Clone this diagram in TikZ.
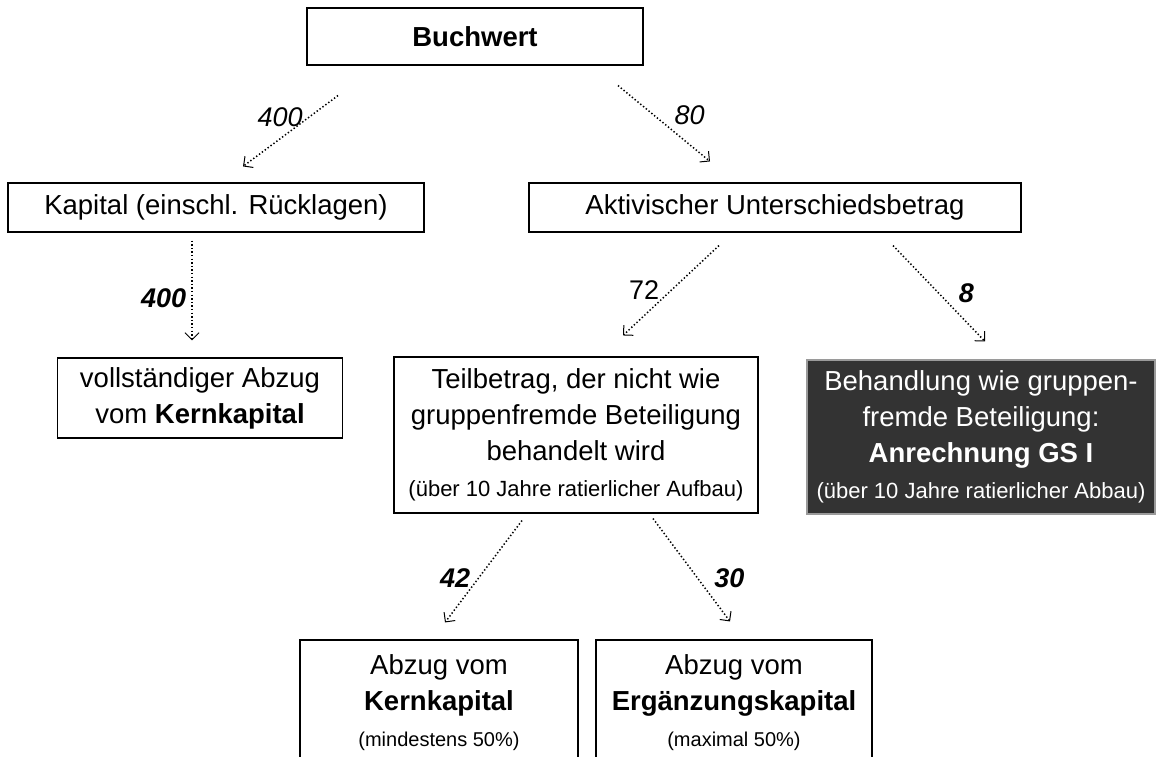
\documentclass[tikz,border=0pt]{standalone}
\usepackage{fontspec}
\setmainfont{Liberation Sans}
\usetikzlibrary{arrows.meta}

\definecolor{boxdark}{HTML}{333333}
\definecolor{boxedge}{HTML}{9A9A9A}

\newcommand{\klein}{\fontsize{20}{36}\selectfont}
\newcommand{\kleinb}{\fontsize{22}{36}\selectfont}

\begin{document}
\begin{tikzpicture}[x=1pt,y=-1pt,
    box/.style={draw, line width=1.1pt, align=center, inner sep=0pt,
        font=\fontsize{27.5}{36}\selectfont},
    darkbox/.style={box, fill=boxdark, draw=boxedge, text=white},
    conn/.style={line width=1.5pt, dash pattern=on 1.4pt off 2.2pt,
        -{Straight Barb[length=7pt,width=14pt,line width=1pt]}},
    num/.style={inner sep=2pt, font=\fontsize{27}{30}\selectfont\itshape},
    bnum/.style={num, font=\fontsize{27}{30}\selectfont\bfseries\itshape},
    pnum/.style={num, font=\fontsize{27}{30}\selectfont}
  ]

    % Page size of the reference
    \useasboundingbox (0,0) rectangle (1162,757);
    \clip (0,0) rectangle (1162,757);

    % Boxes
    \node[box, minimum width=336pt, minimum height=57pt, font=\fontsize{27.5}{36}\selectfont\bfseries]
        (buch) at (475,36.5) {Buchwert};
    \node[box, minimum width=416pt, minimum height=49pt] (kap) at (216,207.5) {Kapital (einschl. Rücklagen)};
    \node[box, minimum width=492pt, minimum height=49pt] (akt) at (775,207.5) {Aktivischer Unterschiedsbetrag};
    \node[box, minimum width=285pt, minimum height=80pt] (voll) at (200,398)
        {vollständiger Abzug\\vom \textbf{Kernkapital}};
    \node[box, minimum width=364pt, minimum height=156pt] (teil) at (576,435)
        {Teilbetrag, der nicht wie\\gruppenfremde Beteiligung\\behandelt wird\\{\kleinb (über 10 Jahre ratierlicher Aufbau)}};
    \node[darkbox, minimum width=348pt, minimum height=154pt] (beh) at (981,437)
        {Behandlung wie gruppen-\\fremde Beteiligung:\\\textbf{Anrechnung GS I}\\{\kleinb (über 10 Jahre ratierlicher Abbau)}};
    \node[box, minimum width=278pt, minimum height=125pt] (kern) at (439,702.5)
        {Abzug vom\\\textbf{Kernkapital}\\{\klein (mindestens 50\%)}};
    \node[box, minimum width=276pt, minimum height=125pt] (erg) at (734,702.5)
        {Abzug vom\\\textbf{Ergänzungskapital}\\{\klein (maximal 50\%)}};

    % Arrows with amounts
    \draw[conn] ([shift={(-137,30)}]buch.south) -- ([shift={(27,-16)}]kap.north)
        node[num, pos=0.3, left=4pt] {400};
    \draw[conn] ([shift={(143,20)}]buch.south) -- ([shift={(-65,-21)}]akt.north)
        node[num, pos=0.39, right=18pt] {80};
    \draw[conn] ([shift={(-24,8)}]kap.south) -- ([shift={(-8,-17)}]voll.north)
        node[bnum, pos=0.58, left=3pt] {400};
    \draw[conn] ([shift={(-56,13)}]akt.south) -- ([shift={(47,-21)}]teil.north)
        node[pnum, midway, left=9pt] {72};
    \draw[conn] ([shift={(118,13)}]akt.south) -- ([shift={(4,-18)}]beh.north)
        node[bnum, midway, right=17pt] {8};
    \draw[conn] ([shift={(-54,7)}]teil.south) -- ([shift={(6,-17)}]kern.north)
        node[bnum, pos=0.56, left=6pt] {42};
    \draw[conn] ([shift={(77,5)}]teil.south) -- ([shift={(-4,-18)}]erg.north)
        node[bnum, pos=0.58, right=14pt] {30};

\end{tikzpicture}
\end{document}
